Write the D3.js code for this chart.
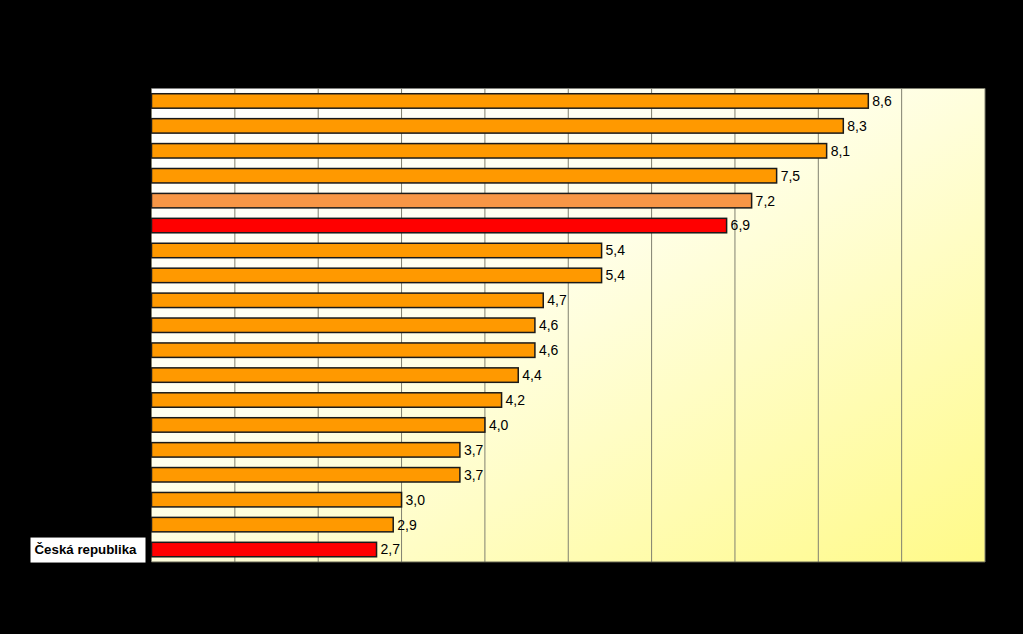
<!DOCTYPE html>
<html>
<head>
<meta charset="utf-8">
<script src="https://cdn.jsdelivr.net/npm/d3@7"></script>
<style>
  body { margin: 0; background: #000; }
  text { font-family: Arial, "Liberation Sans", sans-serif; }
</style>
</head>
<body>
<div id="chart"></div>
<script>
// only the highlighted label is readable in the picture
var categories = ["", "", "", "", "", "", "", "", "", "", "", "", "", "", "", "", "", "", "Česká republika"];
var values = [8.6, 8.3, 8.1, 7.5, 7.2, 6.9, 5.4, 5.4, 4.7, 4.6, 4.6, 4.4, 4.2, 4.0, 3.7, 3.7, 3.0, 2.9, 2.7];
var barColors = ["#FF9900", "#FF9900", "#FF9900", "#FF9900", "#F79646", "#FF0000", "#FF9900", "#FF9900", "#FF9900", "#FF9900",
                 "#FF9900", "#FF9900", "#FF9900", "#FF9900", "#FF9900", "#FF9900", "#FF9900", "#FF9900", "#FF0000"];
var xTicks = [0, 1, 2, 3, 4, 5, 6, 7, 8, 9, 10];

var width = 1023, height = 634,
    margin = {top: 88.5, right: 38, bottom: 72, left: 151.5};

var svg = d3.select("#chart").append("svg")
    .attr("width", width)
    .attr("height", height)
    .style("display", "block");

svg.append("rect").attr("width", width).attr("height", height).attr("fill", "#000");

var defs = svg.append("defs");
var grad = defs.append("linearGradient")
    .attr("id", "bg")
    .attr("x1", "0%").attr("y1", "0%")
    .attr("x2", "100%").attr("y2", "100%");
grad.append("stop").attr("offset", "0%").attr("stop-color", "#FFFFFF");
grad.append("stop").attr("offset", "40%").attr("stop-color", "#FFFFEE");
grad.append("stop").attr("offset", "100%").attr("stop-color", "#FFFA88");

var w = width - margin.left - margin.right,
    h = height - margin.top - margin.bottom;

var g = svg.append("g").attr("transform", "translate(" + margin.left + "," + margin.top + ")");

var x = d3.scaleLinear().domain([0, 10]).range([0, w]);
var y = d3.scaleBand().domain(d3.range(values.length)).range([0, h]).paddingInner(0.42).paddingOuter(0.21);

g.append("rect")
    .attr("width", w)
    .attr("height", h)
    .attr("fill", "url(#bg)");

g.selectAll(".grid")
    .data(xTicks)
    .enter().append("line")
    .attr("class", "grid")
    .attr("x1", function(d) { return x(d); })
    .attr("x2", function(d) { return x(d); })
    .attr("y1", 0)
    .attr("y2", h)
    .attr("stroke", "#808070")
    .attr("stroke-width", 1);

g.append("line")
    .attr("x1", 0).attr("x2", w)
    .attr("y1", h).attr("y2", h)
    .attr("stroke", "#606050")
    .attr("stroke-width", 1);

g.selectAll(".bar")
    .data(values)
    .enter().append("rect")
    .attr("class", "bar")
    .attr("x", 0)
    .attr("y", function(d, i) { return y(i); })
    .attr("width", function(d) { return x(d); })
    .attr("height", y.bandwidth())
    .attr("fill", function(d, i) { return barColors[i]; })
    .attr("stroke", "#1a1a1a")
    .attr("stroke-width", 1.5);

g.selectAll(".val")
    .data(values)
    .enter().append("text")
    .attr("class", "val")
    .attr("x", function(d) { return x(d) + 4; })
    .attr("y", function(d, i) { return y(i) + y.bandwidth() / 2; })
    .attr("dy", "0.35em")
    .attr("font-size", 14)
    .attr("fill", "#000")
    .text(function(d) { return d3.format(".1f")(d).replace(".", ","); });

// category labels: black on black except the highlighted one
var lab = svg.append("g").selectAll("g")
    .data(categories)
    .enter().append("g")
    .attr("transform", function(d, i) { return "translate(" + (margin.left - 6) + "," + (margin.top + y(i) + y.bandwidth() / 2) + ")"; });

lab.filter(function(d) { return d !== ""; })
    .append("rect")
    .attr("x", -115)
    .attr("y", -12)
    .attr("width", 115)
    .attr("height", 25)
    .attr("fill", "#fff");

lab.append("text")
    .attr("x", -9)
    .attr("dy", "0.35em")
    .attr("text-anchor", "end")
    .attr("font-size", 13.3)
    .attr("font-weight", "bold")
    .attr("fill", "#000")
    .text(function(d) { return d; });
</script>
</body>
</html>
